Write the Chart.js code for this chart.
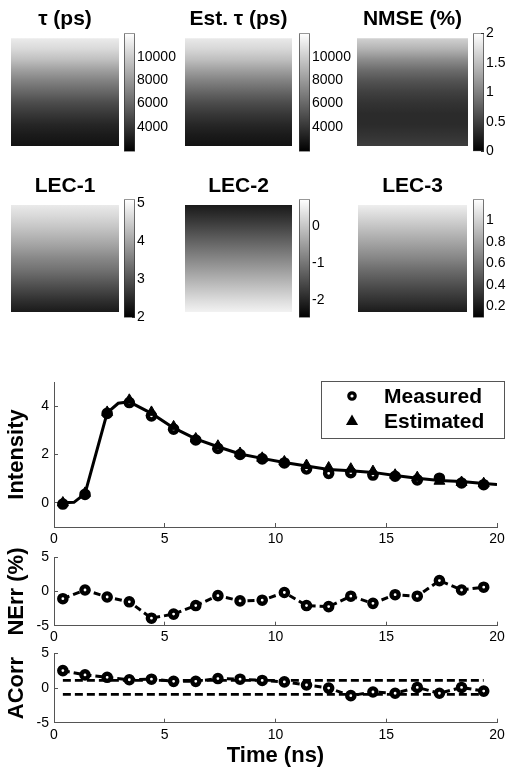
<!DOCTYPE html>
<html><head><meta charset="utf-8">
<script src="https://cdn.jsdelivr.net/npm/chart.js@4.4.0/dist/chart.umd.min.js"></script>
<style>
html,body{margin:0;padding:0;background:#fff;}
#wrap{position:relative;width:514px;height:776px;overflow:hidden;background:#fff;}
canvas{position:absolute;}
</style></head><body><div id="wrap"></div>
<script>
// ---------------- data ----------------
// image profiles: value of each map read down the image (fraction from top)
const imgRows   = [0, 0.1, 0.2, 0.3, 0.4, 0.5, 0.6, 0.7, 0.8, 0.9, 1];
const tauRow    = [11220, 10500, 9490, 8170, 6950, 5930, 4910, 4100, 3390, 2880, 2570];
const estTauRow = [11150, 10450, 9450, 8150, 6950, 5900, 4900, 4100, 3400, 2900, 2580];
const nmseRow   = [1.64, 1.40, 1.10, 0.84, 0.64, 0.50, 0.40, 0.34, 0.34, 0.40, 0.48];
const lec1Row   = [4.85, 4.64, 4.42, 4.17, 3.92, 3.64, 3.40, 3.12, 2.84, 2.56, 2.31];
const lec2Row   = [-2.15, -1.90, -1.62, -1.35, -1.07, -0.80, -0.52, -0.25, 0.02, 0.30, 0.55];
const lec3Row   = [1.12, 1.03, 0.94, 0.85, 0.76, 0.67, 0.57, 0.48, 0.39, 0.30, 0.21];

// colorbar ranges and tick labels
const tauRange  = [1860, 12030];
const nmseRange = [0, 2];
const lec1Range = [2, 5.1];
const lec2Range = [-2.47, 0.71];
const lec3Range = [0.095, 1.195];
const tauTicks  = [4000, 6000, 8000, 10000];
const nmseTicks = [0, 0.5, 1, 1.5, 2];
const lec1Ticks = [2, 3, 4, 5];
const lec2Ticks = [-2, -1, 0];
const lec3Ticks = [0.2, 0.4, 0.6, 0.8, 1];

// decay curves
const timeNs    = [0.4, 1.4, 2.4, 3.4, 4.4, 5.4, 6.4, 7.4, 8.4, 9.4, 10.4, 11.4, 12.4, 13.4, 14.4, 15.4, 16.4, 17.4, 18.4, 19.4];
const measured  = [-0.05, 0.35, 3.70, 4.15, 3.60, 3.05, 2.60, 2.25, 2.00, 1.82, 1.65, 1.40, 1.22, 1.25, 1.15, 1.10, 0.95, 1.02, 0.82, 0.75];
const estimated = [0.00, 0.40, 3.75, 4.25, 3.75, 3.15, 2.65, 2.35, 2.05, 1.85, 1.70, 1.55, 1.45, 1.40, 1.30, 1.15, 1.05, 0.90, 0.85, 0.80];
const fitTime   = [0.4, 0.9, 1.4, 2.4, 2.9, 3.4, 4.4, 5.4, 6.4, 7.4, 8.4, 9.4, 10.4, 11.4, 12.4, 13.4, 14.4, 15.4, 16.4, 17.4, 18.4, 19.4, 20];
const fitCurve  = [0.00, 0.02, 0.38, 3.72, 4.12, 4.18, 3.70, 3.10, 2.65, 2.32, 2.02, 1.84, 1.67, 1.52, 1.38, 1.33, 1.26, 1.13, 1.02, 0.92, 0.88, 0.80, 0.76];
const nerr      = [-1.05, 0.23, -0.80, -1.50, -3.90, -3.30, -2.05, -0.60, -1.37, -1.27, -0.14, -2.05, -2.20, -0.68, -1.73, -0.46, -0.68, 1.60, 0.23, 0.64];
const acorr     = [2.52, 1.90, 1.55, 1.20, 1.28, 0.97, 0.97, 1.37, 1.28, 1.10, 0.89, 0.44, 0.00, -1.10, -0.57, -0.75, 0.09, -0.75, 0.09, -0.44];
const boundTime = [0.4, 19.4];
const upperBound = [1.1, 1.1];
const lowerBound = [-0.9, -0.9];

const timeTicks = [0, 5, 10, 15, 20];
const intTicks  = [0, 2, 4];
const errTicks  = [-5, 0, 5];

// ---------------- helpers ----------------
const FONT = "'Liberation Sans', Arial, Helvetica, sans-serif";
Chart.defaults.font.family = FONT;
Chart.defaults.color = '#000';

function makeCanvas(x, y, w, h) {
  const c = document.createElement('canvas');
  c.width = w; c.height = h;
  c.style.left = x + 'px'; c.style.top = y + 'px';
  c.style.width = w + 'px'; c.style.height = h + 'px';
  document.getElementById('wrap').appendChild(c);
  return c;
}
function grayOf(v, lo, hi) {
  let t = (v - lo) / (hi - lo);
  t = Math.max(0, Math.min(1, t));
  const g = Math.round(t * 255);
  return 'rgb(' + g + ',' + g + ',' + g + ')';
}
const fixTicks = arr => s => { s.ticks = arr.map(v => ({ value: v })); };
const plainLabel = v => String(v);

// ---------------- image panels ----------------
const panels = [
  { title: 'τ (ps)',      rows: tauRow,    range: tauRange,  ticks: tauTicks,  img: [11, 0, 108, 146],   tpad: [6.4, 6.7], cb: [124, 20, 60, 145],  cbpad: [10.7, 12.7] },
  { title: 'Est. τ (ps)', rows: estTauRow, range: tauRange,  ticks: tauTicks,  img: [185, 0, 107, 146],  tpad: [6.4, 6.7], cb: [299, 20, 56, 145],  cbpad: [10.7, 12.7] },
  { title: 'NMSE (%)',    rows: nmseRow,   range: nmseRange, ticks: nmseTicks, img: [357, 0, 111, 146],  tpad: [6.4, 6.7], cb: [473, 20, 41, 145],  cbpad: [10.7, 12.7] },
  { title: 'LEC-1',       rows: lec1Row,   range: lec1Range, ticks: lec1Ticks, img: [11, 165, 108, 147], tpad: [9.1, 5.7], cb: [124, 186, 40, 145], cbpad: [10.5, 12.7] },
  { title: 'LEC-2',       rows: lec2Row,   range: lec2Range, ticks: lec2Ticks, img: [185, 165, 107, 147],tpad: [9.1, 5.7], cb: [299, 186, 40, 145], cbpad: [10.5, 12.7] },
  { title: 'LEC-3',       rows: lec3Row,   range: lec3Range, ticks: lec3Ticks, img: [358, 165, 109, 147],tpad: [9.1, 5.7], cb: [473, 186, 41, 145], cbpad: [10.5, 12.7] }
];

panels.forEach(p => {
  // image
  const ic = makeCanvas(p.img[0], p.img[1], p.img[2], p.img[3]);
  new Chart(ic, {
    type: 'bar',
    data: {
      labels: ['map'],
      datasets: [{
        data: [[0, 1]],
        barPercentage: 1, categoryPercentage: 1, borderWidth: 0,
        backgroundColor: ctx => {
          const ch = ctx.chart;
          if (!ch.chartArea || !ch.scales.y) return '#888';
          const y = ch.scales.y;
          const g = ch.ctx.createLinearGradient(0, y.getPixelForValue(0), 0, y.getPixelForValue(1));
          imgRows.forEach((r, i) => g.addColorStop(r, grayOf(p.rows[i], p.range[0], p.range[1])));
          return g;
        }
      }]
    },
    options: {
      responsive: false, animation: false, events: [],
      layout: { padding: 0 },
      plugins: {
        legend: { display: false }, tooltip: { enabled: false },
        title: { display: true, text: p.title, color: '#000',
                 font: { size: 21, weight: 'bold', family: FONT },
                 padding: { top: p.tpad[0], bottom: p.tpad[1] } }
      },
      scales: {
        x: { display: false },
        y: { display: false, min: 0, max: 1, reverse: true }
      }
    }
  });

  // colorbar
  const cc = makeCanvas(p.cb[0], p.cb[1], p.cb[2], p.cb[3]);
  const barW = 11;
  new Chart(cc, {
    type: 'bar',
    data: {
      labels: [''],
      datasets: [{
        data: [[p.range[0], p.range[1]]],
        barPercentage: 1, categoryPercentage: 1,
        borderWidth: 1, borderColor: '#333', borderSkipped: false,
        backgroundColor: ctx => {
          const ch = ctx.chart;
          if (!ch.chartArea || !ch.scales.y) return '#888';
          const y = ch.scales.y;
          const g = ch.ctx.createLinearGradient(0, y.getPixelForValue(p.range[0]), 0, y.getPixelForValue(p.range[1]));
          g.addColorStop(0, '#000');
          g.addColorStop(1, '#fff');
          return g;
        }
      }]
    },
    options: {
      responsive: false, animation: false, events: [],
      layout: { padding: { top: p.cbpad[0], bottom: p.cbpad[1], left: 0, right: 0 } },
      plugins: { legend: { display: false }, tooltip: { enabled: false } },
      scales: {
        x: { display: false },
        y: {
          position: 'right', min: p.range[0], max: p.range[1],
          afterBuildTicks: fixTicks(p.ticks),
          afterFit: s => { s.width = p.cb[2] - barW; },
          ticks: { font: { size: 14, family: FONT }, color: '#000', padding: 5, callback: plainLabel },
          grid: { drawOnChartArea: false, tickLength: -3, color: '#333', lineWidth: 1 },
          border: { display: false }
        }
      }
    }
  });
});

// ---------------- line plots ----------------
const AXC = '#555';
function lineChart(cfg) {
  const cv = makeCanvas(0, cfg.top, 514, cfg.h);
  return new Chart(cv, {
    type: 'scatter',
    data: { datasets: cfg.datasets },
    options: {
      responsive: false, animation: false, events: [],
      layout: { padding: { top: cfg.padTop, right: 17, left: 0, bottom: 0 } },
      plugins: { legend: { display: false }, tooltip: { enabled: false } },
      scales: {
        x: {
          type: 'linear', min: 0, max: 20,
          afterBuildTicks: fixTicks(timeTicks),
          afterFit: s => { s.height = cfg.xH; },
          ticks: { font: { size: 14, family: FONT }, color: '#000', padding: cfg.xPad, maxRotation: 0, callback: plainLabel },
          grid: { drawOnChartArea: false, tickLength: -4, color: AXC, lineWidth: 1 },
          border: { color: AXC, width: 1 },
          title: cfg.xTitle || { display: false }
        },
        y: {
          type: 'linear', min: cfg.ymin, max: cfg.ymax,
          afterBuildTicks: fixTicks(cfg.yTicks),
          afterFit: s => { s.width = 54; },
          ticks: { font: { size: 14, family: FONT }, color: '#000', padding: 9, callback: plainLabel },
          grid: { drawOnChartArea: false, tickLength: -4, color: AXC, lineWidth: 1 },
          border: { color: AXC, width: 1 },
          title: { display: true, text: cfg.yTitle, color: '#000',
                   font: { size: 22, weight: 'bold', family: FONT }, padding: { top: 4, bottom: 0 } }
        }
      }
    },
    plugins: cfg.plugins || []
  });
}
const pts = (xs, ys) => xs.map((x, i) => ({ x: x, y: ys[i] }));
const circleStyle = { pointStyle: 'circle', pointRadius: 3.6, borderWidth: 3, pointBorderWidth: 4.4,
  pointBackgroundColor: '#fff', pointBorderColor: '#000' };

// legend drawn in the upper-right corner of the intensity plot
const boxLegend = {
  id: 'boxLegend',
  afterDraw(chart) {
    const ctx = chart.ctx;
    const items = chart.data.datasets.filter(d => d.inLegend);
    ctx.save();
    ctx.strokeStyle = '#555'; ctx.lineWidth = 1;
    ctx.strokeRect(321.5, 41.5, 183, 57);
    ctx.font = 'bold 21px ' + FONT;
    ctx.textBaseline = 'middle';
    ctx.fillStyle = '#000';
    items.forEach((d, i) => {
      const cy = 56 + i * 25.5, cx = 352;
      if (d.pointStyle === 'triangle') {
        const r = 7;
        ctx.beginPath();
        ctx.moveTo(cx, cy - r);
        ctx.lineTo(cx + r * 0.866, cy + r / 2);
        ctx.lineTo(cx - r * 0.866, cy + r / 2);
        ctx.closePath();
        ctx.fillStyle = '#000'; ctx.fill();
      } else {
        ctx.beginPath();
        ctx.arc(cx, cy, 3.2, 0, Math.PI * 2);
        ctx.fillStyle = '#fff'; ctx.fill();
        ctx.lineWidth = 3.2; ctx.strokeStyle = '#000'; ctx.stroke();
      }
      ctx.fillStyle = '#000';
      ctx.fillText(d.label, 384, cy + 1);
    });
    ctx.restore();
  }
};

lineChart({
  top: 340, h: 210, padTop: 42, xH: 23, xPad: 8,
  ymin: -1, ymax: 5, yTicks: intTicks, yTitle: 'Intensity',
  plugins: [boxLegend],
  datasets: [
    Object.assign({ label: 'Measured', inLegend: true, order: 1, data: pts(timeNs, measured), showLine: false }, circleStyle),
    { label: 'Estimated', inLegend: true, order: 0, data: pts(timeNs, estimated), showLine: false,
      pointStyle: 'triangle', pointRadius: 6.3, pointBorderWidth: 1, pointBackgroundColor: '#000', pointBorderColor: '#000' },
    { label: 'fit', order: 2, data: pts(fitTime, fitCurve), showLine: true, borderColor: '#000', borderWidth: 3,
      pointRadius: 0, tension: 0 }
  ]
});

lineChart({
  top: 540, h: 110, padTop: 12.7, xH: 24.3, xPad: 7,
  ymin: -5, ymax: 5, yTicks: errTicks, yTitle: 'NErr (%)',
  datasets: [
    Object.assign({ label: 'NErr', data: pts(timeNs, nerr), showLine: true, borderColor: '#000',
      borderDash: [7, 4], tension: 0 }, circleStyle)
  ]
});

lineChart({
  top: 636, h: 140, padTop: 11.3, xH: 53.3, xPad: 8,
  ymin: -5, ymax: 5, yTicks: errTicks, yTitle: 'ACorr',
  xTitle: { display: true, text: 'Time (ns)', color: '#000', font: { size: 22, weight: 'bold', family: FONT },
            padding: { top: 0, bottom: 7 } },
  datasets: [
    Object.assign({ label: 'ACorr', data: pts(timeNs, acorr), showLine: true, borderColor: '#000',
      borderDash: [7, 4], tension: 0 }, circleStyle),
    { label: 'upper', data: pts(boundTime, upperBound), showLine: true, borderColor: '#000', borderWidth: 2.8,
      borderDash: [8, 4], pointRadius: 0 },
    { label: 'lower', data: pts(boundTime, lowerBound), showLine: true, borderColor: '#000', borderWidth: 2.8,
      borderDash: [8, 4], pointRadius: 0 }
  ]
});
</script>
</body></html>
